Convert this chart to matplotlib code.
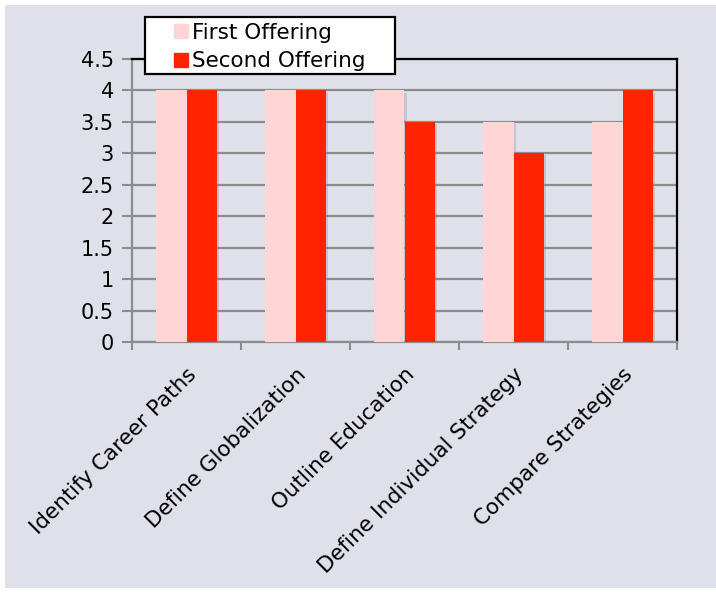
import matplotlib
matplotlib.use("Agg")
import matplotlib.pyplot as plt
import matplotlib.patheffects as pe
from matplotlib.lines import Line2D
from matplotlib.patches import Rectangle
import numpy as np

categories = ["Identify Career Paths", "Define Globalization", "Outline Education",
              "Define Individual Strategy", "Compare Strategies"]
first_offering = [4, 4, 4, 3.5, 3.5]
second_offering = [4, 4, 3.5, 3, 4]
y_ticks = [0, 0.5, 1, 1.5, 2, 2.5, 3, 3.5, 4, 4.5]
y_tick_labels = ["0", "0.5", "1", "1.5", "2", "2.5", "3", "3.5", "4", "4.5"]

bg = "#e0e0ea"
pink = "#ffd5d5"
red = "#ff2400"
grid_gray = "#8c8c8c"

plt.rcParams["font.family"] = ["DejaVu Sans"]

W, H = 716, 594
fig = plt.figure(figsize=(W / 100, H / 100), dpi=100)
fig.patch.set_facecolor("white")
fig.patches.append(Rectangle((5 / W, 6 / H), 1 - 5 / W, 1 - 11 / H,
                             transform=fig.transFigure, facecolor=bg,
                             edgecolor="none", zorder=-10))

ax = fig.add_axes([132 / W, 1 - 342 / H, (677 - 132) / W, (342 - 59) / H])
ax.set_facecolor(bg)

x = np.arange(len(categories))
w = 0.28
shadow = [pe.SimplePatchShadow(offset=(1.5, -1.5), shadow_rgbFace="#9090a0", alpha=0.35),
          pe.Normal()]
b1 = ax.bar(x - w / 2, first_offering, w, color=pink, zorder=3)
b2 = ax.bar(x + w / 2, second_offering, w, color=red, zorder=3)
for b in list(b1) + list(b2):
    b.set_path_effects(shadow)

ax.set_xlim(-0.5, len(categories) - 0.5)
ax.set_ylim(0, 4.5)
ax.set_yticks(y_ticks)
ax.set_yticklabels(y_tick_labels, fontsize=15)
ax.yaxis.grid(True, color=grid_gray, linewidth=1.6, zorder=1)
ax.set_axisbelow(True)

# category labels at centres, tick marks at boundaries
ax.set_xticks(x)
ax.set_xticklabels(categories, rotation=45, ha="right", rotation_mode="anchor",
                   fontsize=15.5)
ax.tick_params(axis="x", length=0, pad=16)
ax.set_xticks(np.arange(-0.5, len(categories)), minor=True)
ax.tick_params(axis="x", which="minor", length=6, width=1.5, color=grid_gray, direction="out")
ax.tick_params(axis="y", length=7, width=1.5, color=grid_gray, direction="out", pad=6)

for s in ["left", "bottom"]:
    ax.spines[s].set_color(grid_gray)
    ax.spines[s].set_linewidth(1.6)
for s in ["top", "right"]:
    ax.spines[s].set_color("black")
    ax.spines[s].set_linewidth(1.6)

# legend: white boxed panel overlapping the top of the plot
fig.patches.append(Rectangle((145 / W, 1 - 74 / H), (395 - 145) / W, (74 - 17) / H,
                             transform=fig.transFigure, facecolor="white",
                             edgecolor="black", linewidth=1.6, zorder=4))
handles = [Line2D([], [], marker="s", linestyle="none", markersize=9.5,
                  markerfacecolor=pink, markeredgecolor=pink),
           Line2D([], [], marker="s", linestyle="none", markersize=9.5,
                  markerfacecolor=red, markeredgecolor=red)]
leg = fig.legend(handles, ["First Offering", "Second Offering"],
                 loc="upper left", bbox_to_anchor=(172 / W, 1 - 23 / H),
                 bbox_transform=fig.transFigure, fontsize=15.5, frameon=False,
                 borderaxespad=0, borderpad=0,
                 handlelength=0.8, handletextpad=0.15, labelspacing=0.38)
leg.set_zorder(5)

fig.savefig("out.png", dpi=100, facecolor=fig.get_facecolor())
